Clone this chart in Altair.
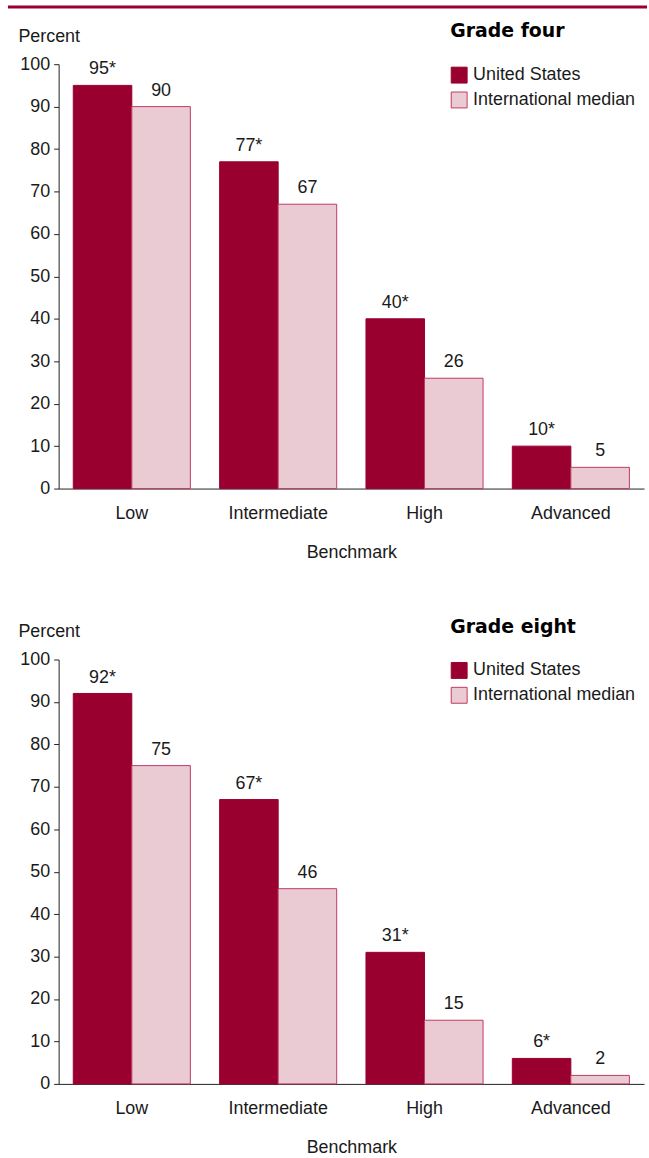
import altair as alt
import pandas as pd

# Benchmark categories and the two series shown for each grade
benchmarks = ["Low", "Intermediate", "High", "Advanced"]
series = ["United States", "International median"]

grade4_us = [95, 77, 40, 10]
grade4_intl = [90, 67, 26, 5]
grade8_us = [92, 67, 31, 6]
grade8_intl = [75, 46, 15, 2]

# U.S. percentages flagged as significantly different from the international median
us_significant = [True, True, True, True]

US_RED = "#990030"
INTL_FILL = "#eacbd4"
INTL_STROKE = "#bf3a62"
FONT = "Liberation Sans"
FS = 18
TEXT = "#1a1a1a"


def build_frame(us_vals, intl_vals):
    rows = []
    for b, u, i, sig in zip(benchmarks, us_vals, intl_vals, us_significant):
        rows.append({"Benchmark": b, "Series": series[0], "Percent": u,
                     "Label": f"{u}*" if sig else f"{u}"})
        rows.append({"Benchmark": b, "Series": series[1], "Percent": i,
                     "Label": f"{i}"})
    return pd.DataFrame(rows)


def panel(grade_title, us_vals, intl_vals, with_rule):
    df = build_frame(us_vals, intl_vals)
    x_enc = alt.X(
        "Benchmark:N", sort=benchmarks,
        scale=alt.Scale(paddingInner=0.2, paddingOuter=0.1),
        axis=alt.Axis(title="Benchmark", labelAngle=0, ticks=False,
                      labelPadding=16, titlePadding=21, domainColor="#222",
                      labelFontSize=FS, titleFontSize=FS, titleFontWeight="normal",
                      labelFont=FONT, titleFont=FONT, labelColor=TEXT, titleColor=TEXT),
    )
    off_enc = alt.XOffset("Series:N", sort=series,
                          scale=alt.Scale(paddingInner=0, paddingOuter=0))
    y_enc = alt.Y(
        "Percent:Q", scale=alt.Scale(domain=[0, 100], nice=False),
        axis=alt.Axis(values=list(range(0, 101, 10)), grid=False, tickSize=5,
                      labelPadding=4, domainColor="#222", tickColor="#222",
                      labelFontSize=FS, labelFont=FONT, labelColor=TEXT,
                      title="Percent", titleAngle=0, titleAlign="left",
                      titleBaseline="alphabetic", titleX=-41, titleY=-23,
                      titleFontSize=FS, titleFontWeight="normal", titleFont=FONT,
                      titleColor=TEXT),
    )
    legend = alt.Legend(
        title=grade_title, orient="none", legendX=394, legendY=-42,
        symbolType="square", symbolSize=256, symbolStrokeWidth=1,
        labelFont=FONT, labelFontSize=FS, labelColor=TEXT, labelOffset=5,
        labelLimit=300,
        titleFont="DejaVu Sans", titleFontSize=19, titleFontWeight="bold",
        titleColor="#000", titlePadding=25, rowPadding=5, padding=0,
    )
    bars = alt.Chart(df).mark_bar(strokeWidth=1).encode(
        x=x_enc, xOffset=off_enc, y=y_enc,
        fill=alt.Fill("Series:N", sort=series,
                      scale=alt.Scale(domain=series, range=[US_RED, INTL_FILL]),
                      legend=legend),
        stroke=alt.Stroke("Series:N", sort=series,
                          scale=alt.Scale(domain=series, range=[US_RED, INTL_STROKE]),
                          legend=legend),
    )
    labels = alt.Chart(df).mark_text(
        baseline="alphabetic", dy=-11, fontSize=FS, font=FONT, color=TEXT
    ).encode(x=x_enc, xOffset=off_enc, y=y_enc, text="Label:N")
    layers = [bars, labels]
    if with_rule:
        rule = alt.Chart(pd.DataFrame({"r": [0]})).mark_rule(
            color=US_RED, strokeWidth=3
        ).encode(x=alt.value(-51), x2=alt.value(592), y=alt.value(-57.5))
        layers.append(rule)
    return alt.layer(*layers).properties(width=589, height=427)


top = panel("Grade four", grade4_us, grade4_intl, True)
bottom = panel("Grade eight", grade8_us, grade8_intl, False)

chart = alt.vconcat(top, bottom, spacing=57).resolve_scale(
    fill="independent", stroke="independent"
).properties(
    padding={"left": 6, "top": 2, "right": 0, "bottom": 0},
    background="white",
).configure_view(stroke=None)

chart.save("out.html", embed_options={"renderer": "svg", "actions": False})
